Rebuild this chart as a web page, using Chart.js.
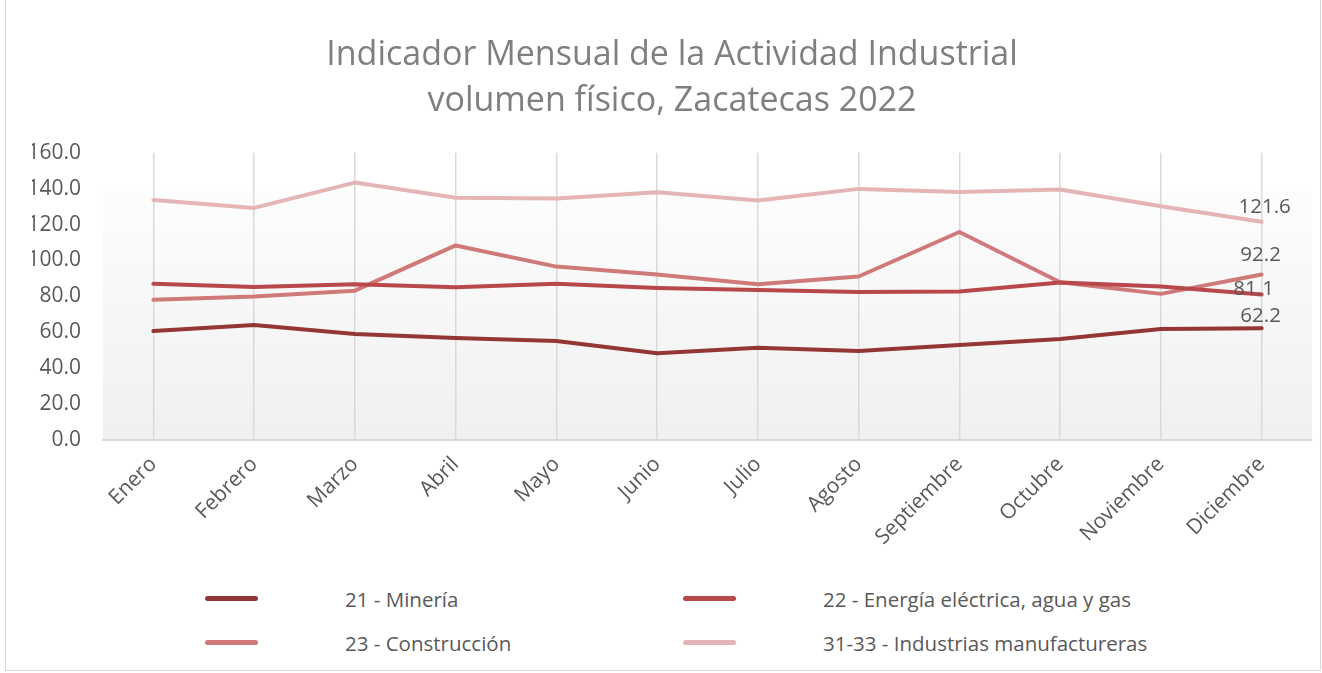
<!DOCTYPE html>
<html>
<head>
<meta charset="utf-8">
<script src="https://cdn.jsdelivr.net/npm/chart.js@4/dist/chart.umd.min.js"></script>
<style>
    body { margin: 0; background: #fff; font-family: "Open Sans", sans-serif; }
    #frame { position: absolute; left: 5px; top: -1px; width: 1314px; height: 670px; border: 1px solid #d9d9d9; }
    #wrap { position: absolute; left: 0; top: 0; width: 1322px; height: 560px; }
    #legend { position: absolute; left: 0; top: 575px; width: 1322px; }
    .item { position: absolute; height: 26px; font-size: 20.5px; color: #595959; line-height: 26px; white-space: nowrap; }
    .item .sw { position: absolute; left: 0; top: 10px; width: 53px; height: 5px; border-radius: 3px; }
    .item .tx { position: absolute; }
</style>
</head>
<body>
<div id="frame"></div>
<div id="wrap"><canvas id="imaiChart" width="1322" height="560"></canvas></div>
<div id="legend"></div>
<script>
const meses = ['Enero', 'Febrero', 'Marzo', 'Abril', 'Mayo', 'Junio', 'Julio', 'Agosto', 'Septiembre', 'Octubre', 'Noviembre', 'Diciembre'];
const yTicks = [0, 20, 40, 60, 80, 100, 120, 140, 160];

const nombres = ['21 - Minería', '22 - Energía eléctrica, agua y gas', '23 - Construcción', '31-33 - Industrias manufactureras'];
const mineria = [60.7, 64.1, 59.0, 56.8, 55.1, 48.3, 51.4, 49.6, 52.9, 56.3, 61.8, 62.2];
const energia = [87.0, 85.3, 86.8, 85.1, 87.0, 84.7, 83.6, 82.5, 82.7, 87.7, 85.5, 81.1];
const construccion = [78.2, 79.9, 83.2, 108.4, 96.6, 92.2, 86.8, 91.1, 115.9, 87.9, 81.4, 92.2];
const manufactureras = [133.7, 129.3, 143.4, 135.0, 134.6, 138.0, 133.4, 139.9, 138.2, 139.5, 130.2, 121.6];

const colores = ['#943634', '#b9484a', '#cf7a78', '#e4b5b4'];
const fuente = '"Open Sans", sans-serif';

// fondo degradado del area de trazado
const plotBg = {
    id: 'plotBg',
    beforeDraw(chart) {
        const { ctx, chartArea: a } = chart;
        const g = ctx.createLinearGradient(0, a.top, 0, a.bottom);
        g.addColorStop(0, '#ffffff');
        g.addColorStop(1, '#f0f0f0');
        ctx.save();
        ctx.fillStyle = g;
        ctx.fillRect(a.left, a.top + 38, a.right - a.left, a.bottom - a.top - 38);
        ctx.restore();
    }
};

// etiqueta solo en el ultimo punto
const lastLabel = {
    id: 'lastLabel',
    afterDatasetsDraw(chart) {
        const ctx = chart.ctx;
        ctx.save();
        ctx.font = '20.5px ' + fuente;
        ctx.fillStyle = '#595959';
        ctx.textAlign = 'center';
        ctx.textBaseline = 'middle';
        chart.data.datasets.forEach((ds, i) => {
            const meta = chart.getDatasetMeta(i);
            const last = meta.data[meta.data.length - 1];
            const v = ds.data[ds.data.length - 1];
            ctx.fillText(v.toFixed(1), last.x + (ds.labelDx || 0), last.y - ds.labelDy);
        });
        ctx.restore();
    }
};

const series = [mineria, energia, construccion, manufactureras];
const labelDy = [12, 5, 19, 15];
const labelDx = [-1, -8, -1, 3];

const chart = new Chart(document.getElementById('imaiChart'), {
    type: 'line',
    data: {
        labels: meses,
        datasets: series.map((s, i) => ({
            label: nombres[i],
            data: s,
            borderColor: colores[i],
            backgroundColor: colores[i],
            borderWidth: 4,
            borderCapStyle: 'round',
            borderJoinStyle: 'round',
            pointRadius: 0,
            tension: 0,
            labelDy: labelDy[i],
            labelDx: labelDx[i]
        }))
    },
    options: {
        responsive: false,
        animation: false,
        layout: { padding: { left: 32, right: 10, top: 0, bottom: 0 } },
        plugins: {
            legend: { display: false },
            tooltip: { enabled: false },
            title: {
                display: true,
                text: ['Indicador Mensual de la Actividad Industrial', 'volumen físico, Zacatecas 2022'],
                color: '#7f7f7f',
                font: { family: fuente, size: 34, weight: 'normal', lineHeight: 1.35 },
                padding: { top: 32, bottom: 29 }
            }
        },
        scales: {
            x: {
                offset: true,
                grid: { display: true, color: '#d9d9d9', lineWidth: 1.5, drawTicks: false, offset: false },
                border: { display: true, color: '#d9d9d9', width: 2 },
                ticks: {
                    color: '#595959',
                    font: { family: fuente, size: 21 },
                    maxRotation: 45,
                    minRotation: 45,
                    padding: 12,
                    autoSkip: false
                },
                afterFit(scale) { scale.height = 120; }
            },
            y: {
                min: 0,
                max: 160,
                afterBuildTicks(scale) { scale.ticks = yTicks.map(v => ({ value: v })); },
                grid: { display: false, drawTicks: false },
                border: { display: false },
                ticks: {
                    color: '#595959',
                    font: { family: fuente, size: 21 },
                    padding: 22,
                    callback: v => Number(v).toFixed(1)
                },
                afterFit(scale) { scale.width = 71; }
            }
        }
    },
    plugins: [plotBg, lastLabel]
});

// leyenda en dos columnas
const legend = document.getElementById('legend');
const legendPos = [[205, 11], [683, 11], [205, 55], [683, 55]];
chart.data.datasets.forEach((ds, i) => {
    const item = document.createElement('div');
    item.className = 'item';
    item.style.left = legendPos[i][0] + 'px';
    item.style.top = legendPos[i][1] + 'px';
    item.innerHTML = `<span class="sw" style="background:${ds.borderColor}"></span><span class="tx" style="left:140px">${ds.label}</span>`;
    legend.appendChild(item);
});
</script>
</body>
</html>
